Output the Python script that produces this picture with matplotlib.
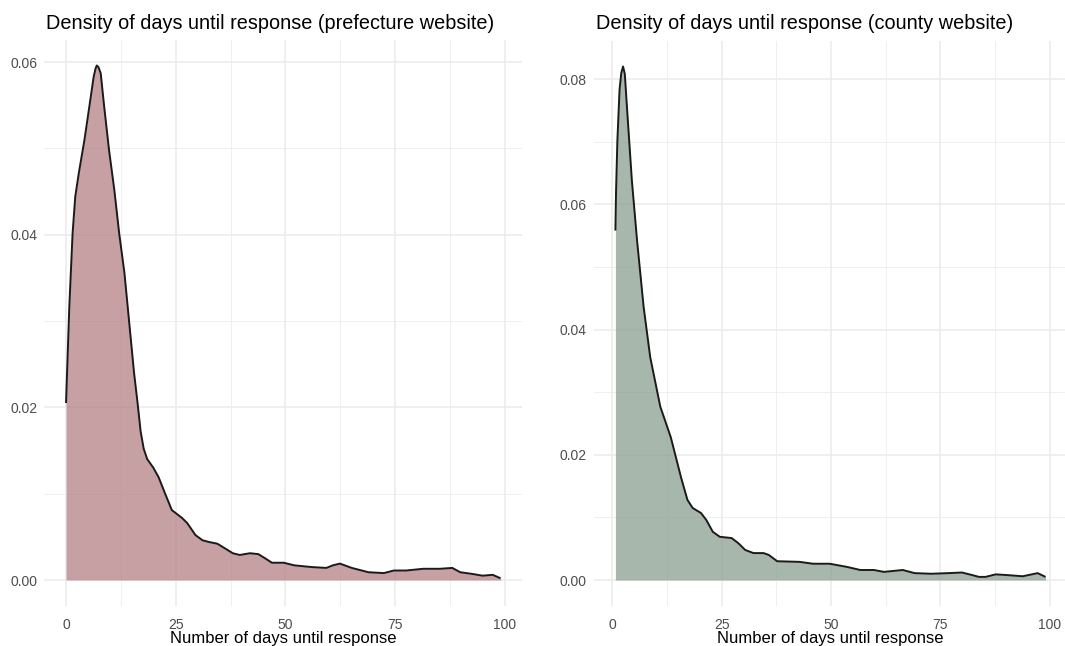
import matplotlib
matplotlib.use("Agg")
import matplotlib.pyplot as plt
from matplotlib.ticker import MultipleLocator

plt.rcParams['font.family'] = ['Liberation Sans', 'DejaVu Sans']

# density of response delay, prefecture websites
pref_days = [0, 0.75, 1.5, 2.1, 2.9, 4.2, 5.3, 6.3, 6.7, 7.0, 7.4, 7.9, 8.7, 9.8, 11.0,
             12.1, 13.3, 14.4, 15.5, 16.3, 17.0, 17.7, 18.5, 19.9, 21.1, 22.5, 24.1,
             26.4, 27.6, 29.5, 31.1, 32.6, 34.5, 36.1, 38.0, 39.6, 41.9, 43.8, 45.4,
             46.9, 49.6, 52.0, 55.9, 59.3, 60.8, 62.4, 65.1, 68.9, 72.4, 74.7, 77.5,
             81.4, 85.2, 88.0, 89.8, 92.6, 94.9, 97.2, 99]
pref_dens = [0.0205, 0.0317, 0.0402, 0.0444, 0.0471, 0.0510, 0.0548, 0.0583, 0.0592,
             0.0596, 0.0594, 0.0587, 0.0548, 0.0498, 0.0452, 0.0402, 0.0356, 0.0298,
             0.0240, 0.0205, 0.0172, 0.0152, 0.0140, 0.0130, 0.0119, 0.0101, 0.0081,
             0.0072, 0.0066, 0.0052, 0.0046, 0.0044, 0.0042, 0.0037, 0.0031, 0.0029,
             0.0031, 0.0030, 0.0025, 0.0020, 0.0020, 0.0017, 0.0015, 0.0014, 0.0017,
             0.0019, 0.0014, 0.0009, 0.0008, 0.0011, 0.0011, 0.0013, 0.0013, 0.0014,
             0.0009, 0.0007, 0.0005, 0.0006, 0.0002]

# density of response delay, county websites
county_days = [0.75, 0.9, 1.2, 1.7, 2.1, 2.5, 2.9, 3.4, 4.5, 5.7, 7.2, 8.7, 11.0, 13.4,
               15.7, 17.2, 18.4, 20.3, 21.5, 23.0, 24.6, 27.3, 28.8, 30.4, 32.3, 34.6,
               35.8, 37.7, 42.8, 45.9, 49.7, 53.6, 56.7, 59.8, 62.1, 66.4, 69.1, 72.9,
               76.8, 79.9, 82.2, 83.8, 85.3, 87.6, 90.0, 93.8, 97.2, 99]
county_dens = [0.0558, 0.0621, 0.0701, 0.0783, 0.0810, 0.0820, 0.0808, 0.0754, 0.0639,
               0.0542, 0.0436, 0.0356, 0.0277, 0.0228, 0.0165, 0.0128, 0.0115, 0.0107,
               0.0096, 0.0077, 0.0069, 0.0067, 0.0059, 0.0048, 0.0043, 0.0043, 0.0040,
               0.0030, 0.0029, 0.0026, 0.0026, 0.0021, 0.0016, 0.0016, 0.0013, 0.0016,
               0.0011, 0.0010, 0.0011, 0.0012, 0.0008, 0.0005, 0.0005, 0.0009, 0.0008,
               0.0006, 0.0011, 0.0005]

x_ticks = [0, 25, 50, 75, 100]
titles = ['Density of days until response (prefecture website)',
          'Density of days until response (county website)']
x_title = 'Number of days until response'

W, H = 1065, 646
fig = plt.figure(figsize=(W / 100, H / 100), dpi=100)

def px_box(x0, x1, y0, y1):
    return [x0 / W, 1 - y1 / H, (x1 - x0) / W, (y1 - y0) / H]

ax1 = fig.add_axes(px_box(44.3, 522.3, 39.6, 605.9))
ax2 = fig.add_axes(px_box(593.9, 1067, 40.8, 605.7))

panels = [
    (ax1, pref_days, pref_dens, '#ba888c', (-4.95, 103.95), (-0.003, 0.0626), 0.02),
    (ax2, county_days, county_dens, '#92a596', (-4.16, 103.9), (-0.0041, 0.0861), 0.02),
]

for i, (ax, xs, ys, col, xl, yl, ystep) in enumerate(panels):
    ax.fill_between(xs, 0, ys, color=col, alpha=0.8, lw=0, zorder=2)
    ax.plot(xs, ys, color='#1a1a1a', lw=1.4, zorder=3, solid_capstyle='butt',
            solid_joinstyle='round')
    ax.set_xlim(*xl)
    ax.set_ylim(*yl)
    ax.set_xticks(x_ticks)
    ax.xaxis.set_minor_locator(MultipleLocator(12.5))
    ax.yaxis.set_major_locator(MultipleLocator(ystep))
    ax.yaxis.set_minor_locator(MultipleLocator(ystep / 2))
    ax.yaxis.set_major_formatter(lambda v, p: f'{v:.2f}')
    ax.grid(which='major', color='#ebebeb', lw=1.1, zorder=0)
    ax.grid(which='minor', color='#ebebeb', lw=0.55, zorder=0)
    ax.set_axisbelow(True)
    for s in ax.spines.values():
        s.set_visible(False)
    ax.tick_params(which='both', length=0, labelsize=10, labelcolor='#4d4d4d')
    ax.tick_params(axis='x', pad=9)
    ax.tick_params(axis='y', pad=5)
    pos = ax.get_position()
    fig.text(pos.x0 + 0.002, 1 - 29 / H, titles[i], fontsize=14.3, color='black',
             ha='left', va='baseline')
    fig.text((pos.x0 + pos.x1) / 2, 1 - 643 / H, x_title, fontsize=12,
             color='black', ha='center', va='baseline')

fig.savefig('out.png', dpi=100, facecolor='white')
